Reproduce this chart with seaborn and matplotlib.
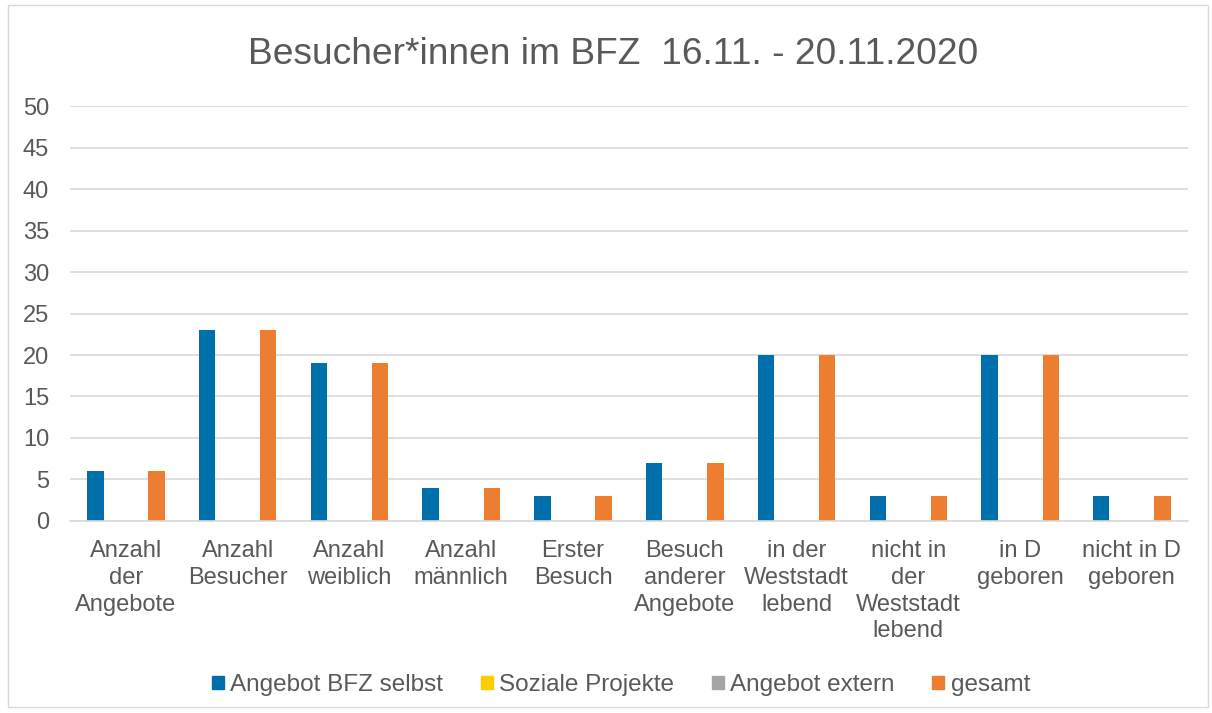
import pandas as pd
import matplotlib.pyplot as plt
import seaborn as sns
from matplotlib.patches import Rectangle

categories = [
    "Anzahl\nder\nAngebote", "Anzahl\nBesucher", "Anzahl\nweiblich", "Anzahl\nmännlich",
    "Erster\nBesuch", "Besuch\nanderer\nAngebote", "in der\nWeststadt\nlebend",
    "nicht in\nder\nWeststadt\nlebend", "in D\ngeboren", "nicht in D\ngeboren",
]
series_names = ["Angebot BFZ selbst", "Soziale Projekte", "Angebot extern", "gesamt"]
bfz_selbst = [6, 23, 19, 4, 3, 7, 20, 3, 20, 3]
soziale_projekte = [0, 0, 0, 0, 0, 0, 0, 0, 0, 0]
angebot_extern = [0, 0, 0, 0, 0, 0, 0, 0, 0, 0]
gesamt = [6, 23, 19, 4, 3, 7, 20, 3, 20, 3]
colors = ["#0070AD", "#FFCC00", "#A5A5A5", "#ED7D31"]

TEXT = "#595959"
GRID = "#D9D9D9"


def main():
    rows = []
    for name, vals in zip(series_names, [bfz_selbst, soziale_projekte, angebot_extern, gesamt]):
        for cat, v in zip(categories, vals):
            rows.append({"Kategorie": cat, "Serie": name, "Wert": v})
    df = pd.DataFrame(rows)

    sns.set_style("white")
    plt.rcParams["font.family"] = ["Liberation Sans", "DejaVu Sans"]

    fig = plt.figure(figsize=(12.12, 7.13), dpi=100)
    ax = fig.add_axes([0.0578, 0.2693, 0.9222, 0.582])

    sns.barplot(data=df, x="Kategorie", y="Wert", hue="Serie", order=categories,
                hue_order=series_names, palette=colors, saturation=1, width=0.73,
                gap=0.2, linewidth=0, ax=ax, legend=True)

    ax.set_ylim(0, 50)
    ax.set_xlim(-0.5, len(categories) - 0.5)
    ax.set_yticks(range(0, 51, 5))
    ax.yaxis.grid(True, color=GRID, linewidth=1.2)
    ax.set_axisbelow(True)
    for s in ["top", "right", "left"]:
        ax.spines[s].set_visible(False)
    ax.spines["bottom"].set_color(GRID)
    ax.spines["bottom"].set_linewidth(1.2)
    ax.tick_params(axis="both", length=0, colors=TEXT, labelsize=17)
    ax.tick_params(axis="x", pad=14)
    ax.tick_params(axis="y", pad=15)
    for lbl in ax.get_xticklabels():
        lbl.set_linespacing(1.27)
    ax.set_xlabel("")
    ax.set_ylabel("")

    fig.suptitle("Besucher*innen im BFZ  16.11. - 20.11.2020", x=0.506, y=0.948,
                 fontsize=26.7, color=TEXT)

    ax.get_legend().remove()
    handles = [Rectangle((0, 0), 1, 1, color=c) for c in colors]
    fig.legend(handles, series_names, loc="center", bbox_to_anchor=(0.5124, 0.039),
               ncol=4, frameon=False, fontsize=17.5, labelcolor=TEXT,
               handlelength=0.5, handleheight=0.5, handletextpad=0.25, columnspacing=1.55)

    fig.patches.append(Rectangle((0.007, 0.008), 0.99, 0.985, transform=fig.transFigure,
                                 fill=False, edgecolor=GRID, linewidth=1))

    fig.savefig("out.png", dpi=100)
    plt.close(fig)


if __name__ == "__main__":
    main()
